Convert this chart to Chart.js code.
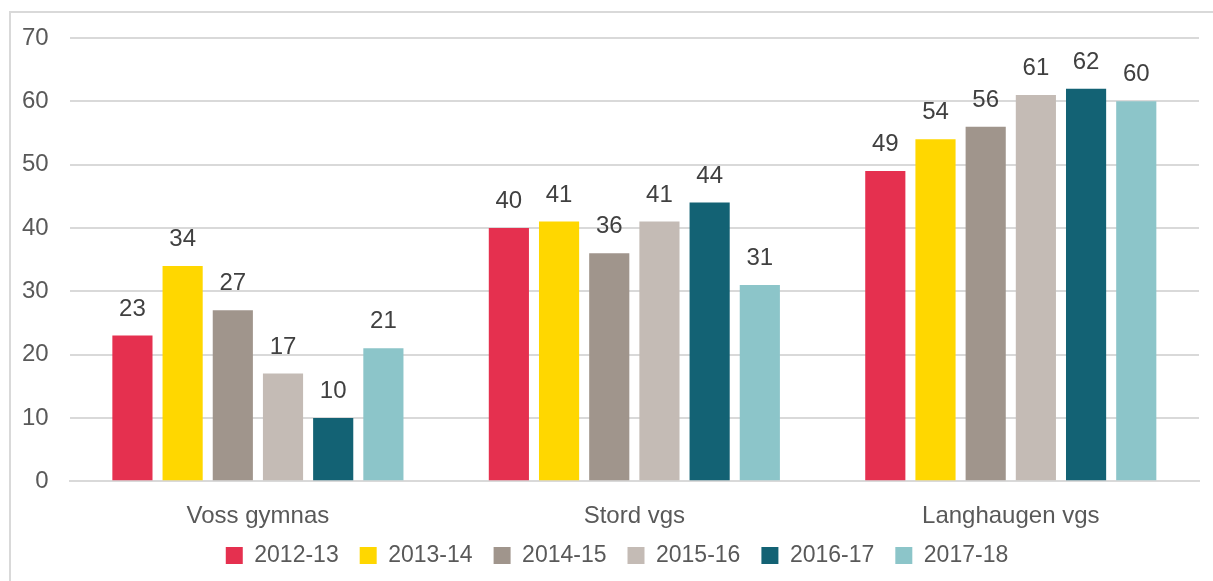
<!DOCTYPE html>
<html>
<head>
<meta charset="utf-8">
<script src="https://cdn.jsdelivr.net/npm/chart.js@4"></script>
<style>
  html, body { margin: 0; padding: 0; background: #fff; overflow: hidden; }
  #frame {
    position: absolute; left: 9px; top: 11px;
    width: 1230px; height: 600px;
    border: 2px solid #d9d9d9; box-sizing: border-box;
  }
  #wrap { position: absolute; left: 0; top: 0; width: 1213px; height: 581px; }
</style>
</head>
<body>
<div id="frame"></div>
<div id="wrap"><canvas id="myChart"></canvas></div>
<script>
// Skoler og skoleår
const schools = ['Voss gymnas', 'Stord vgs', 'Langhaugen vgs'];
const years   = ['2012-13', '2013-14', '2014-15', '2015-16', '2016-17', '2017-18'];

// Verdier per skoleår (Voss, Stord, Langhaugen)
const v2012 = [23, 40, 49];
const v2013 = [34, 41, 54];
const v2014 = [27, 36, 56];
const v2015 = [17, 41, 61];
const v2016 = [10, 44, 62];
const v2017 = [21, 31, 60];

const yTicks = [0, 10, 20, 30, 40, 50, 60, 70];
const colors = ['#e5304f', '#ffd700', '#a0958c', '#c4bbb5', '#136274', '#8cc5c9'];

const series = [v2012, v2013, v2014, v2015, v2016, v2017];
const FONT = '"Liberation Sans", Arial, sans-serif';
const LEGEND_TRIM = 21;
const LEGEND_SHIFT = 17;

// Etiketter over søylene
const valueLabels = {
  id: 'valueLabels',
  afterDatasetsDraw(chart) {
    const ctx = chart.ctx;
    ctx.save();
    ctx.font = '24px ' + FONT;
    ctx.fillStyle = '#404040';
    ctx.textAlign = 'center';
    ctx.textBaseline = 'alphabetic';
    chart.data.datasets.forEach((ds, i) => {
      chart.getDatasetMeta(i).data.forEach((bar, j) => {
        ctx.fillText(ds.data[j], bar.x, bar.y - 20);
      });
    });
    ctx.restore();
  }
};

// Mindre luft over forklaringen (padding styrer også avstanden mellom elementene)
const tightLegend = {
  id: 'tightLegend',
  beforeLayout(chart) {
    const lg = chart.legend;
    if (!lg || lg._trimmed) return;
    lg._trimmed = true;
    const fit = lg.fit.bind(lg);
    const draw = lg.draw.bind(lg);
    lg.fit = function () { fit(); this.height -= LEGEND_TRIM; };
    lg.draw = function () {
      this.top -= LEGEND_TRIM;
      this.left += LEGEND_SHIFT;
      this.right += LEGEND_SHIFT;
      draw();
      this.top += LEGEND_TRIM;
      this.left -= LEGEND_SHIFT;
      this.right -= LEGEND_SHIFT;
    };
  }
};

const ctx = document.getElementById('myChart').getContext('2d');
new Chart(ctx, {
  type: 'bar',
  data: {
    labels: schools,
    datasets: years.map((y, i) => ({
      label: y,
      data: series[i],
      backgroundColor: colors[i],
      borderWidth: 0,
      categoryPercentage: 0.8,
      barPercentage: 0.8
    }))
  },
  options: {
    responsive: true,
    maintainAspectRatio: false,
    animation: false,
    layout: { padding: { left: 1, right: 14, top: 38, bottom: 4 } },
    plugins: {
      tooltip: { enabled: false },
      legend: {
        position: 'bottom',
        labels: {
          color: '#595959',
          font: { size: 23, family: FONT },
          boxWidth: 17,
          boxHeight: 17,
          padding: 21
        }
      }
    },
    scales: {
      x: {
        grid: { display: false },
        border: { color: '#d9d9d9', width: 2 },
        ticks: {
          color: '#595959',
          padding: 13,
          font: { size: 24, family: FONT }
        }
      },
      y: {
        min: 0,
        max: 70,
        afterBuildTicks: axis => { axis.ticks = yTicks.map(v => ({ value: v })); },
        grid: { color: '#d9d9d9', lineWidth: 2, drawTicks: false },
        border: { display: false },
        ticks: {
          color: '#595959',
          padding: 21,
          font: { size: 24, family: FONT }
        }
      }
    }
  },
  plugins: [valueLabels, tightLegend]
});
</script>
</body>
</html>
